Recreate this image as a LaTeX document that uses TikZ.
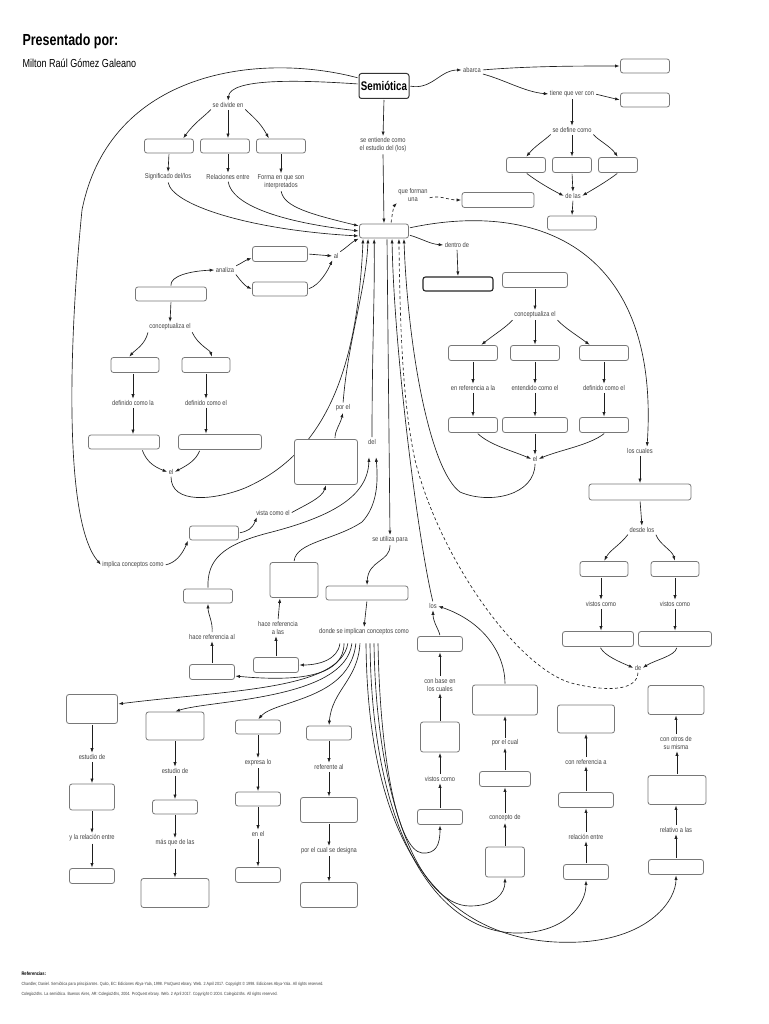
\documentclass[tikz,border=0pt]{standalone}
\usepackage{fontspec}
\setmainfont{Liberation Sans}[FakeStretch=0.82]
\newfontfamily\titlefont{Liberation Sans}[FakeStretch=0.78]
\usepackage{tikz}
\usetikzlibrary{arrows.meta, positioning}
\definecolor{boxgray}{RGB}{120,120,120}
\definecolor{linegray}{RGB}{30,30,30}
\definecolor{textgray}{RGB}{65,65,65}

\begin{document}
\begin{tikzpicture}[x=1pt, y=-1pt,
    box/.style={draw=boxgray, line width=0.8pt, rounded corners=2.5pt, fill=white, inner sep=0pt, minimum width=49, minimum height=14},
    lbl/.style={font=\fontsize{7}{8}\selectfont, text=textgray, inner sep=1pt, align=center},
    arr/.style={-{Latex[length=4.5pt,width=3.2pt]}, line width=0.65pt, draw=linegray, shorten <=1pt, shorten >=0.5pt},
    dsh/.style={dash pattern=on 3pt off 2.5pt}]
\fill[white] (0,0) rectangle (768,1024);
\useasboundingbox (0,0) rectangle (768,1024);

\node[anchor=base west, font=\titlefont\bfseries\fontsize{16}{18}\selectfont] (titulo) at (19,46) {Presentado por:};
\node[anchor=base west, font=\titlefont\fontsize{11.6}{13}\selectfont] (autor) at (19,68) {Milton Raúl Gómez Galeano};

\node[box, draw=black!80, line width=1pt, minimum width=50, minimum height=25, font=\titlefont\bfseries\fontsize{12.5}{14}\selectfont] (semiotica) at (384,86) {Semiótica};

\node[lbl] (abarca) at (472,70) {abarca};
\node[box] (abarcabox) at (645,66) {};
\node[lbl] (tieneque) at (572,94) {tiene que ver con};
\node[box] (tienebox) at (645,100) {};
\node[lbl] (sedefine) at (572,130) {se define como};
\node[box, minimum width=39, minimum height=15] (def1) at (526,165) {};
\node[box, minimum width=39, minimum height=15] (def2) at (572,165) {};
\node[box, minimum width=39, minimum height=15] (def3) at (618,165) {};
\node[lbl] (delas) at (573,196) {de las};
\node[box] (delasbox) at (572,223) {};

\draw[arr] (semiotica.east) .. controls (432,90) and (440,70) .. (abarca.west);
\draw[arr] (abarca.east) .. controls (530,66) and (580,66) .. (abarcabox.west);
\draw[arr] (abarca.south east) .. controls (505,80) and (525,92) .. (tieneque.west);
\draw[arr] (tieneque.east) -- (tienebox.west);
\draw[arr] (tieneque.south) -- (sedefine.north);
\draw[arr] (sedefine.south west) .. controls (545,140) and (535,146) .. (def1.north);
\draw[arr] (sedefine.south) -- (def2.north);
\draw[arr] (sedefine.south east) .. controls (598,140) and (610,146) .. (def3.north);
\draw[arr] (def1.south) .. controls (538,182) and (552,190) .. (delas.west);
\draw[arr] (def2.south) -- (delas.north);
\draw[arr] (def3.south) .. controls (606,182) and (592,190) .. (delas.east);
\draw[arr] (delas.south) -- (delasbox.north);

\node[lbl] (seentiende) at (383,145) {se entiende como\\el estudio del (los)};
\node[box] (central) at (384,231) {};
\node[lbl] (queforman) at (413,195) {que forman\\una};
\node[box, minimum width=72, minimum height=15] (formanbox) at (498,200) {};
\draw[arr] (semiotica.south) -- (seentiende.north);
\draw[arr] (seentiende.south) -- (central.north);
\draw[arr, dsh] ([xshift=7pt]central.north) .. controls (392,214) and (394,206) .. (queforman.south west);
\draw[arr, dsh] ([yshift=-3pt]queforman.east) .. controls (440,195) and (448,200) .. (formanbox.west);

\node[lbl] (sedivide) at (228,105) {se divide en};
\node[box] (div1) at (169,146) {};
\node[box] (div2) at (225,146) {};
\node[box] (div3) at (281,146) {};
\node[lbl] (significado) at (168,177) {Significado del/los};
\node[lbl] (relaciones) at (228,177) {Relaciones entre};
\node[lbl] (forma) at (281,182) {Forma en que son\\interpretados};
\node[lbl] (implica) at (133,565) {implica conceptos como};
\draw[arr] ([yshift=8pt]semiotica.west) .. controls (260,52) and (110,70) .. (82,210) .. controls (70,330) and (62,520) .. (implica.west);
\draw[arr] ([yshift=2pt]semiotica.west) .. controls (300,80) and (230,78) .. (sedivide.north);
\draw[arr] (sedivide.south west) .. controls (205,116) and (195,122) .. ([xshift=14pt]div1.north);
\draw[arr] (sedivide.south) -- (sedivide.south |- div2.north);
\draw[arr] (sedivide.south east) .. controls (252,116) and (260,122) .. ([xshift=-12pt]div3.north);
\draw[arr] (div1.south) -- (significado.north);
\draw[arr] (relaciones.north |- div2.south) -- (relaciones.north);
\draw[arr] (div3.south) -- (forma.north);
\draw[arr] (significado.south) .. controls (172,205) and (250,230) .. ([yshift=-5pt]central.west);
\draw[arr] (relaciones.south) .. controls (232,205) and (280,222) .. (central.west);
\draw[arr] (forma.south) .. controls (284,207) and (310,214) .. ([yshift=5pt]central.west);

\node[box, minimum width=71] (analizabox) at (171,294) {};
\node[lbl] (analiza) at (225,270) {analiza};
\node[box, minimum width=55, minimum height=15] (an1) at (280,254) {};
\node[box, minimum width=55] (an2) at (280,289) {};
\node[lbl] (al) at (336,256) {al};
\draw[arr] (analizabox.north) .. controls (170,276) and (190,271) .. (analiza.west);
\draw[arr] (analiza.north east) .. controls (240,264) and (246,260) .. ([yshift=-4pt]an1.west);
\draw[arr] (analiza.south east) .. controls (240,280) and (245,286) .. (an2.west);
\draw[arr] (an1.east) -- (al.west);
\draw[arr] (an2.east) .. controls (320,285) and (328,270) .. (al.south west);
\draw[arr] (al.north east) .. controls (346,248) and (352,242) .. (central.south west);

\node[lbl] (concep1) at (170,327) {conceptualiza el};
\node[box, minimum width=48, minimum height=15] (c1) at (135,365) {};
\node[box, minimum width=48, minimum height=15] (c2) at (206,365) {};
\node[lbl] (defla) at (133,403) {definido como la};
\node[lbl] (defel) at (206,403) {definido como el};
\node[box, minimum width=71] (d1) at (124,442) {};
\node[box, minimum width=83, minimum height=15] (d2) at (220,442) {};
\node[lbl] (el1) at (171,472) {el};
\draw[arr] (analizabox.south) -- (concep1.north);
\draw[arr] (concep1.south west) .. controls (145,345) and (135,350) .. ([xshift=-6pt]c1.north);
\draw[arr] (concep1.south east) .. controls (198,345) and (210,350) .. ([xshift=6pt]c2.north);
\draw[arr] (defla.north |- c1.south) -- (defla.north);
\draw[arr] (c2.south) -- (defel.north);
\draw[arr] (defla.south) -- (defla.south |- d1.north);
\draw[arr] (defel.south) -- (defel.south |- d2.north);
\draw[arr] ([xshift=18pt]d1.south) .. controls (146,460) and (152,466) .. (el1.west);
\draw[arr] ([xshift=-20pt]d2.south) .. controls (196,460) and (188,465) .. (el1.east);
\draw[arr] (el1.south) .. controls (171,505) and (215,500) .. (245,488) .. controls (320,455) and (357,380) .. ([xshift=4pt]central.south west);

\node[box, minimum width=63, minimum height=45] (vistabox) at (326,462) {};
\node[lbl] (porel) at (343,408) {por el};
\node[lbl] (del) at (372,442) {del};
\draw[arr] ([xshift=9pt]vistabox.north) .. controls (335,430) and (340,425) .. (porel.south);
\draw[arr] (porel.north) .. controls (348,340) and (366,290) .. ([xshift=9pt]central.south west);
\draw[arr] (del.north) .. controls (372,350) and (375,290) .. ([xshift=15pt]central.south west);

\node[box] (fbox) at (214,533) {};
\node[lbl] (vistacomo) at (273,513) {vista como el};
\draw[arr] (implica.east) .. controls (175,563) and (182,555) .. ([xshift=-1pt]fbox.south west);
\draw[arr] (fbox.east) .. controls (248,531) and (252,529) .. ([xshift=2pt]vistacomo.south west);
\draw[arr] (vistacomo.east) .. controls (305,505) and (322,498) .. (vistabox.south);

\node[box] (gbox) at (208,596) {};
\node[lbl] (hacerefal) at (212,637) {hace referencia al};
\node[box, minimum width=45, minimum height=15] (jbox) at (212,672) {};
\node[box, minimum width=48, minimum height=35] (hbox) at (294,580) {};
\node[lbl] (hacereflas) at (278,628) {hace referencia\\a las};
\node[box, minimum width=45, minimum height=15] (kbox) at (276,665) {};
\draw[arr] (jbox.north) -- (hacerefal.south);
\draw[arr] (hacerefal.north) .. controls (213,622) and (208,614) .. (gbox.south);
\draw[arr] (gbox.north) .. controls (207,560) and (222,545) .. (268,533) .. controls (335,516) and (368,495) .. ([shift={(-3pt,-11pt)}]del.south);
\draw[arr] (kbox.north) -- (kbox.north |- hacereflas.south);
\draw[arr] (hacereflas.north) -- ([xshift=-14pt]hbox.south);
\draw[arr] (hbox.north) .. controls (296,542) and (335,540) .. (362,522) .. controls (378,505) and (378,480) .. ([shift={(4pt,-11pt)}]del.south);

\node[lbl] (seutiliza) at (390,540) {se utiliza para};
\node[box, minimum width=82] (ibox) at (367,593) {};
\node[lbl] (donde) at (364,632) {donde se implican conceptos como};
\draw[arr] ([xshift=3pt]central.south) -- (seutiliza.north);
\draw[arr] (seutiliza.south) .. controls (390,562) and (368,560) .. (ibox.north);
\draw[arr] (ibox.south) -- (donde.north);

\node[lbl] (los) at (433,606) {los};
\draw[arr] (los.north) .. controls (418,540) and (394,350) .. ([xshift=8pt]central.south);

\node[lbl] (dentrode) at (457,245) {dentro de};
\node[box, minimum width=70, draw=black!85, line width=1.1pt] (dentrobox) at (458,284) {};
\node[box, minimum width=65, minimum height=15] (ccbox) at (535,280) {};
\node[lbl] (concep2) at (535,315) {conceptualiza el};
\node[box, minimum height=15] (e1) at (473,353) {};
\node[box, minimum height=15] (e2) at (535,353) {};
\node[box, minimum height=15] (e3) at (604,353) {};
\node[lbl] (enref) at (473,388) {en referencia a la};
\node[lbl] (entendido) at (535,388) {entendido como el};
\node[lbl] (defel2) at (604,388) {definido como el};
\node[box, minimum height=15] (f1) at (473,425) {};
\node[box, minimum width=65, minimum height=15] (f2) at (535,425) {};
\node[box, minimum height=15] (f3) at (604,425) {};
\node[lbl] (el2) at (535,459) {el};
\draw[arr] ([yshift=-4pt]central.east) .. controls (420,238) and (430,244) .. (dentrode.west);
\draw[arr] (dentrode.south) -- (dentrobox.north);
\draw[arr] (ccbox.south) -- (concep2.north);
\draw[arr] (concep2.south west) .. controls (505,328) and (495,334) .. ([xshift=8pt]e1.north);
\draw[arr] (concep2.south) -- (e2.north);
\draw[arr] (concep2.south east) .. controls (565,328) and (575,334) .. ([xshift=-14pt]e3.north);
\draw[arr] (e1.south) -- (enref.north);
\draw[arr] (e2.south) -- (entendido.north);
\draw[arr] (e3.south) -- (defel2.north);
\draw[arr] (enref.south) -- (f1.north);
\draw[arr] (entendido.south) -- (f2.north);
\draw[arr] (defel2.south) -- (f3.north);
\draw[arr] ([xshift=4pt]f1.south) .. controls (490,445) and (510,450) .. (el2.west);
\draw[arr] (f2.south) -- (el2.north);
\draw[arr] ([xshift=1pt]f3.south) .. controls (590,445) and (560,450) .. (el2.east);
\draw[arr] (el2.south) .. controls (535,495) and (490,505) .. (460,492) .. controls (430,470) and (408,350) .. ([xshift=-5pt]central.south east);

\node[lbl] (loscuales) at (640,451) {los cuales};
\node[box, minimum width=102, minimum height=16] (bbbox) at (640,492) {};
\node[lbl] (desde) at (642,530) {desde los};
\node[box, minimum width=48, minimum height=15] (g1) at (604,569) {};
\node[box, minimum width=48, minimum height=15] (g2) at (675,569) {};
\node[lbl] (vistos1) at (601,604) {vistos como};
\node[lbl] (vistos2) at (675,604) {vistos como};
\node[box, minimum width=71, minimum height=15] (h1) at (598,639) {};
\node[box, minimum width=73, minimum height=15] (h2) at (675,639) {};
\node[lbl] (de) at (638,668) {de};
\draw[arr] ([yshift=3pt]central.east) .. controls (540,200) and (660,250) .. ([xshift=7pt]loscuales.north);
\draw[arr] (loscuales.south) -- (bbbox.north);
\draw[arr] (bbbox.south) -- (desde.north);
\draw[arr] (desde.south west) .. controls (620,545) and (610,550) .. (g1.north);
\draw[arr] (desde.south east) .. controls (660,545) and (672,550) .. (g2.north);
\draw[arr] (vistos1.north |- g1.south) -- (vistos1.north);
\draw[arr] (g2.south) -- (vistos2.north);
\draw[arr] (vistos1.south) -- (vistos1.south |- h1.north);
\draw[arr] (vistos2.south) -- (h2.north);
\draw[arr] ([xshift=2pt]h1.south) .. controls (605,656) and (620,662) .. (de.west);
\draw[arr] ([xshift=2pt]h2.south) .. controls (675,656) and (655,660) .. (de.east);
\draw[arr, dsh] (de.south) .. controls (637,690) and (610,692) .. (575,684) .. controls (520,672) and (440,560) .. (415,460) .. controls (402,400) and (400,320) .. ([xshift=-10pt]central.south east);

\node[box, minimum width=51, minimum height=29] (lbox) at (92,709) {};
\node[lbl] (estudio1) at (92,757) {estudio de};
\node[box, minimum width=45, minimum height=26] (lbox2) at (92,797) {};
\node[lbl] (ylarel) at (92,838) {y la relación entre};
\node[box, minimum width=45, minimum height=15] (lbox3) at (92,876) {};
\draw[arr] (lbox.south) -- (estudio1.north);
\draw[arr] (estudio1.south) -- (lbox2.north);
\draw[arr] (lbox2.south) -- (ylarel.north);
\draw[arr] (ylarel.south) -- (lbox3.north);

\node[box, minimum width=58, minimum height=28] (mbox) at (175,726) {};
\node[lbl] (estudio2) at (175,771) {estudio de};
\node[box, minimum width=45] (mbox2) at (175,807) {};
\node[lbl] (masque) at (175,843) {más que de las};
\node[box, minimum width=68, minimum height=29] (mbox3) at (175,893) {};
\draw[arr] (mbox.south) -- (estudio2.north);
\draw[arr] (estudio2.south) -- (mbox2.north);
\draw[arr] (mbox2.south) -- (masque.north);
\draw[arr] (masque.south) -- (mbox3.north);

\node[box, minimum width=45] (nbox) at (258,727) {};
\node[lbl] (expresa) at (258,763) {expresa lo};
\node[box, minimum width=45] (nbox2) at (258,799) {};
\node[lbl] (enel) at (258,834) {en el};
\node[box, minimum width=45, minimum height=15] (nbox3) at (258,875) {};
\draw[arr] (nbox.south) -- (expresa.north);
\draw[arr] (expresa.south) -- (nbox2.north);
\draw[arr] (nbox2.south) -- (enel.north);
\draw[arr] (enel.south) -- (nbox3.north);

\node[box, minimum width=45] (obox) at (329,733) {};
\node[lbl] (referente) at (329,767) {referente al};
\node[box, minimum width=57, minimum height=25] (obox2) at (329,810) {};
\node[lbl] (designa) at (329,851) {por el cual se designa};
\node[box, minimum width=57, minimum height=25] (obox3) at (329,895) {};
\draw[arr] (obox.south) -- (referente.north);
\draw[arr] (referente.south) -- (obox2.north);
\draw[arr] (obox2.south) -- (designa.north);
\draw[arr] (designa.south) -- (obox3.north);

\node[box, minimum width=45, minimum height=15] (pbox) at (440,644) {};
\node[lbl] (conbase) at (440,685) {con base en\\los cuales};
\node[box, minimum width=39, minimum height=30] (qbox) at (440,737) {};
\node[lbl] (vistos3) at (440,779) {vistos como};
\node[box, minimum width=45, minimum height=15] (rbox) at (440,817) {};
\draw[arr] (rbox.north) -- (vistos3.south);
\draw[arr] (vistos3.north) -- (qbox.south);
\draw[arr] (qbox.north) -- (conbase.south);
\draw[arr] (conbase.north) -- (pbox.south);
\draw[arr] (pbox.north) .. controls (439,630) and (433,622) .. (los.south);

\node[box, minimum width=65, minimum height=30] (sbox) at (505,700) {};
\node[lbl] (porelcual) at (505,743) {por el cual};
\node[box, minimum width=51, minimum height=15] (tbox) at (505,779) {};
\node[lbl] (conceptode) at (505,818) {concepto de};
\node[box, minimum width=39, minimum height=30] (ubox) at (505,862) {};
\draw[arr] (ubox.north) -- (conceptode.south);
\draw[arr] (conceptode.north) -- (tbox.south);
\draw[arr] (tbox.north) -- (porelcual.south);
\draw[arr] (porelcual.north) -- (sbox.south);
\draw[arr] (sbox.north) .. controls (505,655) and (485,622) .. (los.east);

\node[box, minimum width=57, minimum height=28] (vbox) at (586,719) {};
\node[lbl] (conref) at (586,762) {con referencia a};
\node[box, minimum width=55, minimum height=15] (wbox) at (586,800) {};
\node[lbl] (relentre) at (586,837) {relación entre};
\node[box, minimum width=45, minimum height=15] (xbox) at (586,872) {};
\draw[arr] (xbox.north) -- (relentre.south);
\draw[arr] (relentre.north) -- (wbox.south);
\draw[arr] (wbox.north) -- (conref.south);
\draw[arr] (conref.north) -- (vbox.south);

\node[box, minimum width=56, minimum height=29] (ybox) at (676,700) {};
\node[lbl] (conotros) at (676,743) {con otros de\\su misma};
\node[box, minimum width=58, minimum height=29] (zbox) at (677,790) {};
\node[lbl] (relativo) at (676,830) {relativo a las};
\node[box, minimum width=55, minimum height=15] (aabox) at (676,867) {};
\draw[arr] (aabox.north) -- (relativo.south);
\draw[arr] (relativo.north) -- (relativo.north |- zbox.south);
\draw[arr] (zbox.north) -- (zbox.north |- conotros.south);
\draw[arr] (conotros.north) -- (ybox.south);

\draw[arr] ([xshift=-24pt,yshift=-6pt]donde.south) .. controls (338,660) and (318,665) .. (kbox.east);
\draw[arr] ([xshift=-20pt,yshift=-6pt]donde.south) .. controls (344,676) and (300,682) .. ([yshift=-4pt]jbox.east);
\draw[arr] ([xshift=-16pt,yshift=-6pt]donde.south) .. controls (340,690) and (230,690) .. ([yshift=5pt]lbox.east);
\draw[arr] ([xshift=-12pt,yshift=-6pt]donde.south) .. controls (345,700) and (210,700) .. (mbox.north);
\draw[arr] ([xshift=-8pt,yshift=-6pt]donde.south) .. controls (350,700) and (275,700) .. (nbox.north);
\draw[arr] ([xshift=-4pt,yshift=-6pt]donde.south) .. controls (358,680) and (332,690) .. (obox.north);
\draw[arr] ([xshift=14pt,yshift=-6pt]donde.south) .. controls (380,760) and (398,850) .. (422,853) .. controls (436,854) and (440,845) .. (rbox.south);
\draw[arr] ([xshift=10pt,yshift=-6pt]donde.south) .. controls (376,800) and (420,906) .. (470,906) .. controls (495,906) and (505,893) .. (ubox.south);
\draw[arr] ([xshift=6pt,yshift=-6pt]donde.south) .. controls (372,840) and (440,935) .. (520,933) .. controls (565,932) and (586,905) .. (xbox.south);
\draw[arr] ([xshift=2pt,yshift=-6pt]donde.south) .. controls (368,870) and (460,948) .. (580,942) .. controls (650,938) and (676,900) .. (aabox.south);

\node[anchor=base west, font=\bfseries\fontsize{5}{6}\selectfont] (refs) at (18,975) {Referencias:};
\node[anchor=base west, text=textgray, font=\fontsize{4.5}{5}\selectfont] (ref1) at (18,985) {Chandler, Daniel. Semiótica para principiantes. Quito, EC: Ediciones Abya-Yala, 1998. ProQuest ebrary. Web. 2 April 2017. Copyright © 1998. Ediciones Abya-Yala. All rights reserved.};
\node[anchor=base west, text=textgray, font=\fontsize{4.5}{5}\selectfont] (ref2) at (18,995) {Colegio24hs. La semiótica. Buenos Aires, AR: Colegio24hs, 2004. ProQuest ebrary. Web. 2 April 2017. Copyright © 2004. Colegio24hs. All rights reserved.};
\end{tikzpicture}
\end{document}
